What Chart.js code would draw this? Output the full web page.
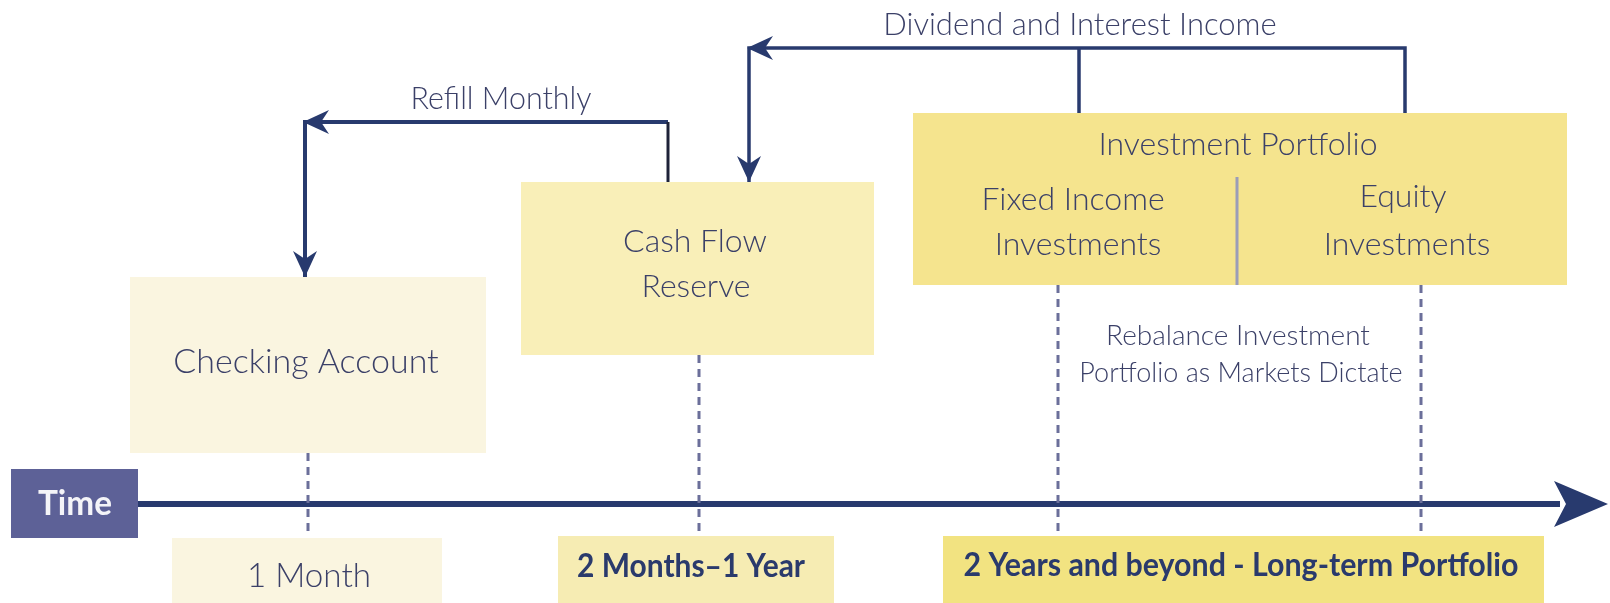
<!DOCTYPE html>
<html>
<head>
<meta charset="utf-8">
<script src="https://cdn.jsdelivr.net/npm/chart.js@4.4.1/dist/chart.umd.min.js"></script>
<style>
  html, body { margin: 0; padding: 0; background: #ffffff; }
  canvas { display: block; }
</style>
</head>
<body>
<canvas id="myChart" width="1610" height="603"></canvas>
<script>
"use strict";

// Boxes (diagram units: x 0..1610, y 0..603 from top)
const boxNames = ["Checking Account", "Cash Flow Reserve", "Investment Portfolio", "1 Month", "2 Months–1 Year", "Long-term Portfolio", "Time"];
const boxLeft = [130, 521, 913, 172, 558, 943, 11];
const boxRight = [486, 874, 1567, 442, 834, 1544, 138];
const boxTop = [277, 182, 113, 538, 536, 536, 469];
const boxBottom = [453, 355, 285, 603, 603, 603, 538];
const boxColors = ["#faf5e0", "#f9efb8", "#f5e48e", "#faf5e0", "#f6ecb3", "#f2e381", "#5d6197"];

// Time markers (dashed)
const markerX = [308, 699, 1058, 1421];
const markerTop = [453, 355, 285, 285];
const markerBottom = 533;

// Flow arrows
const refillPath = [[668, 182], [668, 122], [305, 122], [305, 277]];
const dividendPath = [[1405, 113], [1405, 48], [749, 48], [749, 182]];
const dividendBranch = [[1079, 113], [1079, 48]];
const timeline = [[138, 504], [1560, 504]];
const timelineTip = 1608;

// Labels: text, centre x, baseline y, size, width, weight
const labelText = [
  "Dividend and Interest Income", "Refill Monthly", "Investment Portfolio",
  "Fixed Income", "Investments", "Equity", "Investments",
  "Cash Flow", "Reserve", "Checking Account",
  "Rebalance Investment", "Portfolio as Markets Dictate",
  "Time", "1 Month", "2 Months–1 Year", "2 Years and beyond - Long-term Portfolio"
];
const labelX = [1080, 501, 1238, 1073, 1078, 1403, 1407, 695, 696, 306, 1238, 1241, 75, 309, 691, 1241];
const labelY = [35, 109, 155, 210, 255, 207, 255, 252, 297, 373, 345, 382, 515, 587, 577, 576];
const labelSize = [31, 32, 32, 32, 32, 32, 32, 32, 32, 34, 28, 27, 34, 34, 32, 32];
const labelWidth = [395, 181, 303, 199, 176, 90, 177, 156, 118, 271, 266, 344, 74, 124, 228, 555];
const labelBold = [0, 0, 0, 0, 0, 0, 0, 0, 0, 0, 0, 0, 1, 0, 1, 1];

const NAVY = "#283a6e";

function pts(path) {
  return path.map((p) => ({ x: p[0], y: p[1] }));
}

const datasets = [];
markerX.forEach((x, i) => {
  datasets.push({
    data: [{ x: x, y: markerTop[i] }, { x: x, y: markerBottom }],
    borderColor: "#6b6f9a",
    borderWidth: 3,
    borderDash: [8, 6],
  });
});
datasets.push({ data: pts(refillPath.slice(0, 2)), borderColor: "#1e2238", borderWidth: 3 });
datasets.push({ data: pts(refillPath.slice(1)), borderColor: NAVY, borderWidth: 4 });
datasets.push({ data: pts(dividendPath), borderColor: NAVY, borderWidth: 3.5 });
datasets.push({ data: pts(dividendBranch), borderColor: NAVY, borderWidth: 3.5 });
datasets.push({ data: pts(timeline), borderColor: NAVY, borderWidth: 6 });
datasets.forEach((d) => {
  d.showLine = true;
  d.pointRadius = 0;
  d.fill = false;
  d.tension = 0;
});

function arrowHead(ctx, x, y, dir, len, half, notch) {
  // dir: angle the arrow points to
  ctx.save();
  ctx.translate(x, y);
  ctx.rotate(dir);
  ctx.beginPath();
  ctx.moveTo(0, 0);
  ctx.lineTo(-len, -half);
  ctx.lineTo(-len + notch, 0);
  ctx.lineTo(-len, half);
  ctx.closePath();
  ctx.fillStyle = NAVY;
  ctx.fill();
  ctx.restore();
}

const diagramPlugin = {
  id: "diagram",
  beforeDatasetsDraw(chart) {
    const { ctx, scales } = chart;
    const sx = scales.x, sy = scales.y;
    ctx.save();
    boxNames.forEach((n, i) => {
      const x0 = sx.getPixelForValue(boxLeft[i]);
      const x1 = sx.getPixelForValue(boxRight[i]);
      const y0 = sy.getPixelForValue(boxTop[i]);
      const y1 = sy.getPixelForValue(boxBottom[i]);
      ctx.fillStyle = boxColors[i];
      ctx.fillRect(x0, y0, x1 - x0, y1 - y0);
    });
    // divider inside the portfolio box
    ctx.strokeStyle = "#9b9db8";
    ctx.lineWidth = 3;
    ctx.beginPath();
    ctx.moveTo(sx.getPixelForValue(1237), sy.getPixelForValue(177));
    ctx.lineTo(sx.getPixelForValue(1237), sy.getPixelForValue(285));
    ctx.stroke();
    ctx.restore();
  },
  afterDatasetsDraw(chart) {
    const { ctx, scales } = chart;
    const sx = scales.x, sy = scales.y;
    const P = (p) => [sx.getPixelForValue(p[0]), sy.getPixelForValue(p[1])];
    let a;
    a = P(refillPath[2]); arrowHead(ctx, a[0] - 2, a[1], Math.PI, 26, 12, 8);
    a = P(refillPath[3]); arrowHead(ctx, a[0], a[1], Math.PI / 2, 26, 12, 8);
    a = P(dividendPath[2]); arrowHead(ctx, a[0] - 2, a[1], Math.PI, 26, 12, 8);
    a = P(dividendPath[3]); arrowHead(ctx, a[0], a[1], Math.PI / 2, 26, 12, 8);
    a = P([timelineTip, timeline[1][1]]); arrowHead(ctx, a[0], a[1], 0, 54, 23, 12);

    ctx.save();
    ctx.textAlign = "center";
    ctx.textBaseline = "alphabetic";
    labelText.forEach((t, i) => {
      const bold = labelBold[i] === 1;
      ctx.font = (bold ? "bold " : "300 ") + labelSize[i] + "px Lato";
      ctx.fillStyle = t === "Time" ? "#f4f4f8" : (bold ? "#2a3a6c" : "#3b4068");
      ctx.fillText(t, sx.getPixelForValue(labelX[i]), sy.getPixelForValue(labelY[i]), labelWidth[i]);
    });
    ctx.restore();
  },
};

const ctx = document.getElementById("myChart").getContext("2d");
const myChart = new Chart(ctx, {
  type: "scatter",
  data: { datasets: datasets },
  options: {
    responsive: false,
    animation: false,
    devicePixelRatio: 1,
    layout: { padding: 0 },
    clip: false,
    plugins: { legend: { display: false }, tooltip: { enabled: false } },
    scales: {
      x: { type: "linear", min: 0, max: 1610, display: false },
      y: { type: "linear", min: 0, max: 603, reverse: true, display: false },
    },
  },
  plugins: [diagramPlugin],
});
</script>
</body>
</html>
